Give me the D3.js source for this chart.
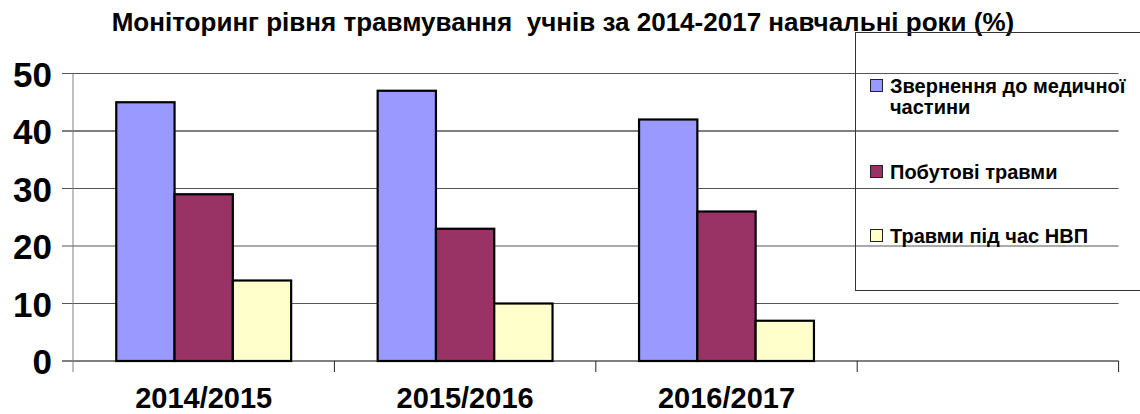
<!DOCTYPE html>
<html>
<head>
<meta charset="utf-8">
<script src="https://cdn.jsdelivr.net/npm/d3@7/dist/d3.min.js"></script>
<style>
  body { margin: 0; background: #fff; }
  svg { display: block; font-family: "Liberation Sans", Arial, sans-serif; }
  .legend-text { font-size: 20px; font-weight: 700; }
</style>
</head>
<body>
<svg id="chart"></svg>
<script>
// дані
var years = ["2014/2015", "2015/2016", "2016/2017", ""];
var seriesNames = ["Звернення до медичної частини", "Побутові травми", "Травми під час НВП"];
var medical = [45, 47, 42];
var household = [29, 23, 26];
var educational = [14, 10, 7];
var yTicks = [0, 10, 20, 30, 40, 50];
var title = "Моніторинг рівня травмування  учнів за 2014-2017 навчальні роки (%)";

var settings = {
  width: 1140,
  height: 414,
  plot: { left: 73, right: 1118.6, top: 73.5, bottom: 361 },
  colors: ["#9999FF", "#993366", "#FFFFCC"],
  titleWidth: 903
};

var values = [medical, household, educational];
var rows = [];
years.forEach(function(y, i) {
  values.forEach(function(s, j) {
    if (s[i] !== undefined) rows.push({ year: y, series: seriesNames[j], value: s[i] });
  });
});

var svg = d3.select("#chart")
  .attr("width", settings.width)
  .attr("height", settings.height);

//scaleの定義
var xScale = d3.scaleBand()
  .domain(years)
  .range([settings.plot.left, settings.plot.right]);
var xInner = d3.scaleBand()
  .domain(seriesNames)
  .range([0, xScale.bandwidth()])
  .paddingOuter(0.742);
var yScale = d3.scaleLinear()
  .domain([0, 50])
  .range([settings.plot.bottom, settings.plot.top]);
var color = d3.scaleOrdinal().domain(seriesNames).range(settings.colors);

// сітка
svg.append("g")
  .selectAll("line")
  .data(yTicks)
  .enter().append("line")
  .attr("x1", settings.plot.left - 11)
  .attr("x2", settings.plot.right)
  .attr("y1", function(d) { return yScale(d); })
  .attr("y2", function(d) { return yScale(d); })
  .attr("stroke", function(d) { return d === 0 || d === 40 ? "#000" : "#555"; })
  .attr("stroke-width", 1);

// вісь Y
var yAxis = d3.axisLeft(yScale)
  .tickValues(yTicks)
  .tickSize(0)
  .tickPadding(21);
var gy = svg.append("g")
  .attr("transform", "translate(" + settings.plot.left + ",0)")
  .call(yAxis);
gy.select(".domain").remove();
gy.selectAll("text")
  .attr("font-family", "Liberation Sans, Arial, sans-serif")
  .attr("font-size", 35)
  .attr("font-weight", "bold")
  .attr("fill", "#000")
  .attr("dy", "0.36em");
svg.append("line")
  .attr("x1", settings.plot.left).attr("x2", settings.plot.left)
  .attr("y1", settings.plot.top).attr("y2", settings.plot.bottom + 11)
  .attr("stroke", "#808080");

// вісь X
var xAxis = d3.axisBottom(xScale).tickSize(0).tickPadding(0);
var gx = svg.append("g")
  .attr("transform", "translate(0," + settings.plot.bottom + ")")
  .call(xAxis);
gx.select(".domain").remove();
gx.selectAll("text")
  .attr("font-family", "Liberation Sans, Arial, sans-serif")
  .attr("font-size", 29)
  .attr("font-weight", "bold")
  .attr("fill", "#000")
  .attr("dy", null)
  .attr("y", 47);
gx.selectAll(".tick line").remove();
svg.append("g")
  .selectAll("line")
  .data(years.slice(1).concat(["end"]))
  .enter().append("line")
  .attr("x1", function(d, i) { return settings.plot.left + xScale.step() * (i + 1); })
  .attr("x2", function(d, i) { return settings.plot.left + xScale.step() * (i + 1); })
  .attr("y1", settings.plot.bottom)
  .attr("y2", settings.plot.bottom + 11)
  .attr("stroke", "#222");

// стовпчики
svg.append("g")
  .selectAll("rect")
  .data(rows)
  .enter().append("rect")
  .attr("x", function(d) { return xScale(d.year) + xInner(d.series); })
  .attr("y", function(d) { return yScale(d.value); })
  .attr("width", xInner.bandwidth())
  .attr("height", function(d) { return yScale(0) - yScale(d.value); })
  .attr("fill", function(d) { return color(d.series); })
  .attr("stroke", "#000")
  .attr("stroke-width", 2.2);

// заголовок
var titleText = svg.append("text")
  .attr("x", 563)
  .attr("y", 31)
  .attr("text-anchor", "middle")
  .attr("font-family", "Liberation Sans, Arial, sans-serif")
  .attr("font-size", 20)
  .attr("font-weight", 700)
  .style("white-space", "pre")
  .attr("fill", "#000")
  .text(title);
var tw = titleText.node().getComputedTextLength();
titleText.attr("font-size", 20 * settings.titleWidth / tw);

// легенда
var legend = svg.append("g");
legend.append("rect")
  .attr("x", 855.5).attr("y", 32.5)
  .attr("width", 320).attr("height", 258)
  .attr("fill", "none")
  .attr("stroke", "#333");
var legendLines = [["Звернення до медичної", "частини"], ["Побутові травми"], ["Травми під час НВП"]];
var legendY = [93, 179, 243];
var item = legend.selectAll("g.item")
  .data(seriesNames)
  .enter().append("g")
  .attr("class", "item")
  .attr("transform", function(d, i) { return "translate(870," + legendY[i] + ")"; });
item.append("rect")
  .attr("x", 0.5).attr("y", -13.5)
  .attr("width", 12).attr("height", 12)
  .attr("fill", function(d) { return color(d); })
  .attr("stroke", "#222");
item.append("text")
  .attr("class", "legend-text")
  .attr("x", 20)
  .attr("fill", "#000")
  .selectAll("tspan")
  .data(function(d, i) { return legendLines[i]; })
  .enter().append("tspan")
  .attr("x", 20)
  .attr("dy", function(d, i) { return i === 0 ? 0 : 21; })
  .text(function(d) { return d; });
</script>
</body>
</html>
